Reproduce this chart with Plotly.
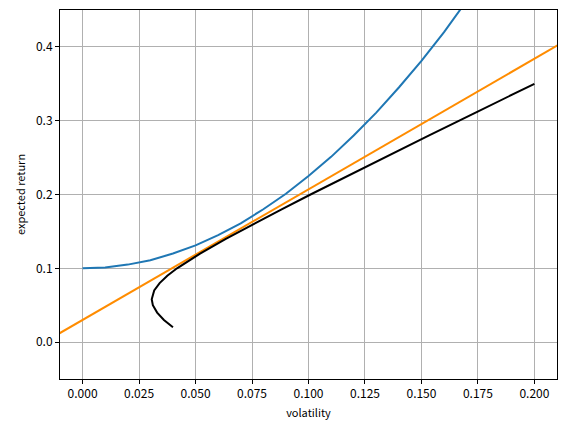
import plotly.graph_objects as go

# Blue curve (indifference curve)
blue_x = [0.00, 0.01, 0.02, 0.03, 0.04, 0.05, 0.06, 0.07, 0.08, 0.09, 0.10,
          0.11, 0.12, 0.13, 0.14, 0.15, 0.16, 0.17, 0.18, 0.19, 0.20]
blue_y = [0.100, 0.101, 0.105, 0.111, 0.120, 0.131, 0.145, 0.161, 0.180, 0.201, 0.225,
          0.251, 0.280, 0.311, 0.345, 0.381, 0.420, 0.461, 0.505, 0.551, 0.600]

# Orange line (capital market line)
orange_x = [-0.05, 0.25]
orange_y = [-0.0585, 0.4725]

# Black curve (efficient frontier)
frontier_y = [0.02, 0.03, 0.04, 0.05, 0.058, 0.07, 0.08, 0.09, 0.10, 0.12, 0.14,
              0.16, 0.18, 0.20, 0.22, 0.25, 0.28, 0.31, 0.35]
frontier_x = [0.0400, 0.0360, 0.0330, 0.0311, 0.0306, 0.0317, 0.0341, 0.0375, 0.0418,
              0.0520, 0.0634, 0.0755, 0.0881, 0.1009, 0.1139, 0.1335, 0.1534, 0.1733, 0.2000]

x_ticks = [0.0, 0.025, 0.05, 0.075, 0.1, 0.125, 0.15, 0.175, 0.2]
y_ticks = [0.0, 0.1, 0.2, 0.3, 0.4]

fig = go.Figure()
fig.add_trace(go.Scatter(x=blue_x, y=blue_y, mode="lines",
                         line=dict(color="#1f77b4", width=2)))
fig.add_trace(go.Scatter(x=orange_x, y=orange_y, mode="lines",
                         line=dict(color="#ff8c00", width=2)))
fig.add_trace(go.Scatter(x=frontier_x, y=frontier_y, mode="lines",
                         line=dict(color="black", width=2)))

font = dict(family="Noto Sans CJK JP", size=12, color="black")
fig.update_layout(
    width=565, height=430,
    margin=dict(l=60, r=8, t=10, b=51),
    paper_bgcolor="white", plot_bgcolor="white",
    showlegend=False,
    font=font,
)
fig.update_xaxes(
    range=[-0.01, 0.21], tickvals=x_ticks, ticktext=[f"{v:.3f}" for v in x_ticks],
    showgrid=True, gridcolor="#b0b0b0", gridwidth=1,
    showline=True, linecolor="black", linewidth=1, mirror=True,
    ticks="outside", ticklen=4, tickcolor="black",
    zeroline=False,
    title=dict(text="volatility", font=dict(size=11), standoff=8),
)
fig.update_yaxes(
    range=[-0.05, 0.45], tickvals=y_ticks, ticktext=[f"{v:.1f}" for v in y_ticks],
    showgrid=True, gridcolor="#b0b0b0", gridwidth=1,
    showline=True, linecolor="black", linewidth=1, mirror=True,
    ticks="outside", ticklen=4, tickcolor="black",
    zeroline=False,
    title=dict(text="expected return", font=dict(size=11), standoff=8),
)

fig.write_html("out.html")
